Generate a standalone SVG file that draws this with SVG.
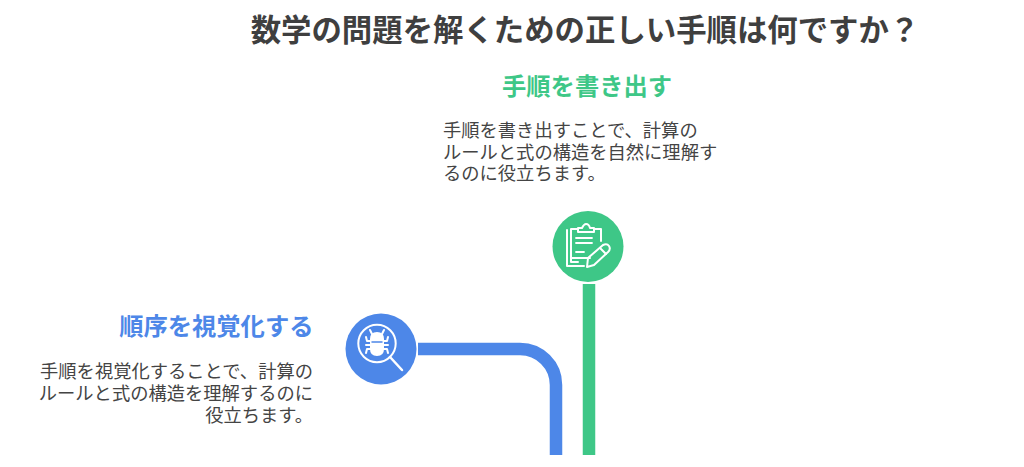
<svg xmlns="http://www.w3.org/2000/svg" width="1024" height="467" viewBox="0 0 1024 467">
<style>
text{font-family:"Noto Sans CJK JP","Noto Sans",sans-serif}
.t{font-size:30.400px;font-weight:700;fill:#3f3f3f}
.h{font-size:24.300px;font-weight:700}
.b{font-size:18.300px;fill:#444}
.i{fill:none;stroke:#fff;stroke-width:2;stroke-linecap:round;stroke-linejoin:round}
.c{fill:none;stroke-width:12.5}
</style>
<rect width="1024" height="467" fill="#fff"/>
<text id="title" class="t" x="585" y="41" text-anchor="middle">数学の問題を解くための正しい手順は何ですか？</text>
<g id="connectors">
<path class="c" stroke="#3ec787" d="M589 284V455"/>
<path class="c" stroke="#4d87e8" d="M418 349H520A36 36 0 0 1 556 385V455"/>
</g>
<g id="node-write">
<text class="h" x="502" y="95" fill="#3ec787">手順を書き出す</text>
<g class="b">
<text x="443" y="136.500">手順を書き出すことで、計算の</text>
<text x="443" y="158.500">ルールと式の構造を自然に理解す</text>
<text x="443" y="180">るのに役立ちます。</text>
</g>
<circle cx="588" cy="246.500" r="35.500" fill="#3ec787"/>
<g class="i">
<path d="M571 232V262H578"/>
<path d="M567 230V266H584"/>
<path d="M578 229H571V258H590M601 241V229H594"/>
<path d="M578 232V228H582Q584 224 586 224Q589 224 590 228H594V232Z"/>
<path d="M576 238H592M576 243H592M576 252H584" stroke-width="1.800"/>
<path d="M587 267L588 258L603 245Q607 243 609 246Q611 249 608 252L594 265Z"/>
<path d="M600 248L606 254"/>
</g>
</g>
<g id="node-visualize">
<text class="h" x="313.500" y="335" text-anchor="end" fill="#4d87e8">順序を視覚化する</text>
<g class="b" text-anchor="end">
<text x="313" y="377.500">手順を視覚化することで、計算の</text>
<text x="313" y="399.500">ルールと式の構造を理解するのに</text>
<text x="313" y="421.500">役立ちます。</text>
</g>
<circle cx="381" cy="349" r="35.500" fill="#4d87e8"/>
<g class="i">
<circle cx="377" cy="343.500" r="18.700"/>
<path d="M390 357L402 370" stroke-width="2.500"/>
<g transform="translate(0,-2)">
<path d="M371 341Q371 335 377 335Q383 335 383 341V351Q383 357 377 357Q371 357 371 351Z" fill="#fff"/>
<path d="M372 336L370 332M382 336L384 332M371 343H367L366 339M383 343H387L388 339M371 347H366M383 347H388M371 351H367L366 355M383 351H387L388 355"/>
<path d="M372 344H382" stroke="#4d87e8" stroke-width="1.500"/>
</g>
</g>
</g>
</svg>
